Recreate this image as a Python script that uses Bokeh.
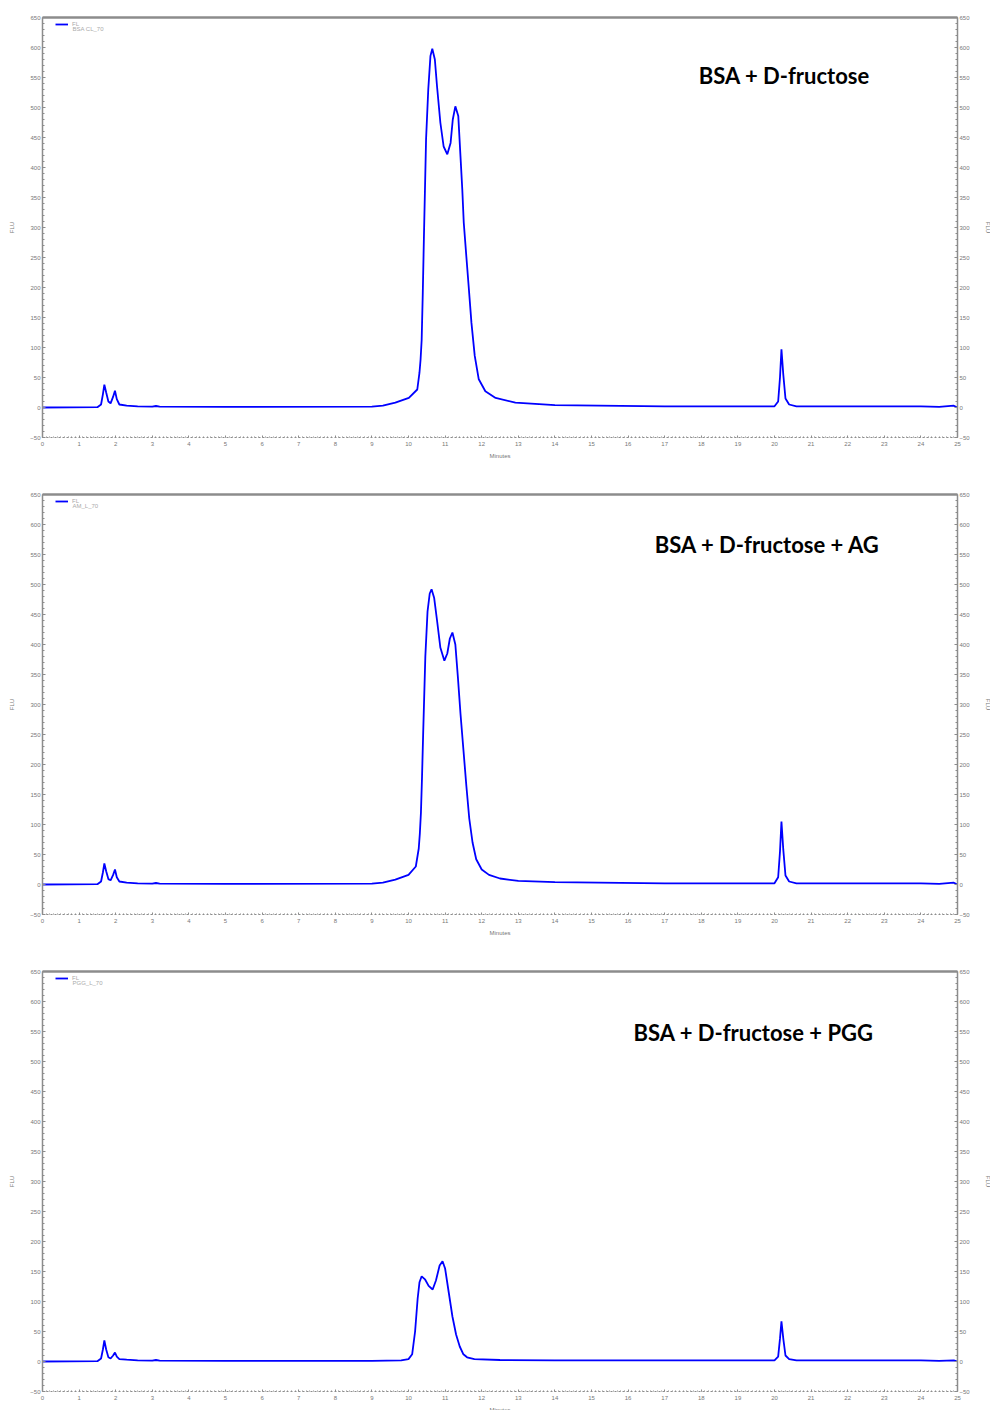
from bokeh.plotting import figure
from bokeh.layouts import column
from bokeh.models import Range1d, LinearAxis, FixedTicker, Label, Legend, LegendItem
from bokeh.embed import file_html
from bokeh.resources import INLINE

# ---------------- data ----------------
X_TICKS = list(range(0, 26))
Y_TICKS = list(range(-50, 651, 50))

t1 = [0.0, 1.5, 1.6, 1.65, 1.69, 1.74, 1.8, 1.86, 1.93, 1.98, 2.03, 2.1, 2.3, 2.6, 3.0, 3.1, 3.2, 5.0,
      9.0, 9.3, 9.64, 10.01, 10.24, 10.30, 10.33, 10.36, 10.39, 10.42, 10.48, 10.54, 10.60, 10.65, 10.72,
      10.78, 10.87, 10.96, 11.06, 11.15, 11.21, 11.28, 11.36, 11.42, 11.47, 11.51, 11.58, 11.65, 11.72,
      11.81, 11.92, 12.10, 12.38, 12.92, 14.0,
      17.0, 20.0, 20.1, 20.15, 20.19, 20.24, 20.3, 20.4, 20.6, 24.0, 24.5, 24.9, 25.0]
v1 = [0, 0.5, 5, 22, 38, 25, 10, 7, 18, 28, 14, 5, 3, 2, 1.5, 2.5, 1.5, 1,
      1.5, 3, 8, 16, 30, 58, 80, 113, 190, 280, 447, 530, 586, 598, 580,
      535, 475, 435, 422, 441, 480, 502, 486, 419, 363, 308, 252, 197, 141,
      86, 47, 27, 16, 8, 4,
      2, 2, 10, 50, 97, 55, 15, 5, 2, 2, 1, 3, 0]

t2 = [0.0, 1.5, 1.6, 1.65, 1.69, 1.74, 1.8, 1.86, 1.93, 1.98, 2.03, 2.1, 2.3, 2.6, 3.0, 3.1, 3.2, 5.0,
      9.0, 9.3, 9.64, 10.0, 10.2, 10.28, 10.31, 10.34, 10.37, 10.4, 10.46, 10.52, 10.58, 10.63, 10.7,
      10.78, 10.87, 10.98, 11.06, 11.13, 11.2, 11.28, 11.35, 11.42, 11.5, 11.58, 11.66, 11.75, 11.85,
      12.0, 12.2, 12.5, 13.0, 14.0,
      17.0, 20.0, 20.1, 20.15, 20.19, 20.24, 20.3, 20.4, 20.6, 24.0, 24.5, 24.9, 25.0]
v2 = [0, 0.5, 5, 20, 35, 22, 9, 7, 16, 25, 12, 5, 3, 2, 1.5, 2.5, 1.5, 1,
      1.5, 3, 8, 16, 30, 60, 85, 120, 180, 250, 380, 455, 485, 492, 478,
      440, 395, 373, 385, 410, 420, 400, 345, 285, 225, 165, 110, 70, 42,
      25, 16, 10, 6, 4,
      2, 2, 12, 55, 105, 58, 15, 5, 2, 2, 1, 3, 0]

t3 = [0.0, 1.5, 1.6, 1.65, 1.69, 1.74, 1.8, 1.86, 1.93, 1.98, 2.03, 2.1, 2.3, 2.6, 3.0, 3.1, 3.2, 5.0,
      9.0, 9.8, 10.0, 10.1, 10.18, 10.25, 10.3, 10.36, 10.45, 10.55, 10.66, 10.75, 10.85, 10.93, 11.0,
      11.1, 11.2, 11.3, 11.4, 11.5, 11.6, 11.8, 12.5, 14.0,
      17.0, 20.0, 20.1, 20.15, 20.19, 20.24, 20.3, 20.4, 20.6, 24.0, 24.5, 24.9, 25.0]
v3 = [0, 0.5, 5, 20, 35, 20, 7, 5, 10, 15, 8, 4, 3, 2, 1.5, 2.5, 1.5, 1,
      1, 2, 4, 12, 50, 105, 132, 142, 137, 126, 120, 135, 160, 167, 155,
      115, 75, 45, 25, 12, 7, 4, 2.5, 2,
      2, 2, 8, 38, 67, 38, 10, 4, 2, 2, 1, 2, 0]

panels = [
    (t1, v1, "BSA + D-fructose", "BSA CL_70", 20.27, 553),
    (t2, v2, "BSA + D-fructose + AG", "AM_L_70", 19.81, 567),
    (t3, v3, "BSA + D-fructose + PGG", "PGG_L_70", 19.43, 548),
]

GRAY = "#8c8c8c"
TXT = "#777777"


def style_axis(ax, label=None):
    ax.axis_line_color = GRAY
    ax.major_tick_line_color = GRAY
    ax.minor_tick_line_color = GRAY
    ax.major_label_text_font = "Liberation Sans"
    ax.major_label_text_font_size = "6px"
    ax.major_label_text_color = TXT
    ax.major_label_standoff = 2
    ax.axis_label_text_font = "Liberation Sans"
    ax.axis_label_text_font_size = "6px"
    ax.axis_label_text_font_style = "normal"
    ax.axis_label_text_color = TXT
    if label is not None:
        ax.axis_label = label


figs = []
for i, (t, v, title, leg2, tx, ty) in enumerate(panels):
    p = figure(frame_width=915, frame_height=420, output_backend="svg", toolbar_location=None,
               x_range=Range1d(0, 25), y_range=Range1d(-50, 650),
               min_border_left=42, min_border_right=23, min_border_top=17,
               min_border_bottom=40 if i < 2 else 10,
               background_fill_color="white", border_fill_color="white")
    p.outline_line_color = None
    p.grid.visible = False

    r = p.line(t, v, line_color="#0000ff", line_width=1.8)

    # axes
    p.xaxis.ticker = FixedTicker(ticks=X_TICKS, minor_ticks=[x / 10 for x in range(0, 251)])
    style_axis(p.xaxis[0], "Minutes")
    p.xaxis.axis_line_dash = "2 2"
    p.xaxis.major_tick_in = 2
    p.xaxis.major_tick_out = 0
    p.xaxis.minor_tick_in = 1
    p.xaxis.minor_tick_out = 0
    p.xaxis.major_label_standoff = 4
    p.xaxis.axis_label_standoff = 4

    p.yaxis.ticker = FixedTicker(ticks=Y_TICKS, minor_ticks=list(range(-50, 651, 10)))
    style_axis(p.yaxis[0], "FLU")
    p.yaxis.axis_line_width = 1.5
    p.yaxis.major_tick_in = 3
    p.yaxis.major_tick_out = 0
    p.yaxis.minor_tick_in = 2
    p.yaxis.minor_tick_out = 0
    p.yaxis.axis_label_standoff = 12

    ry = LinearAxis(ticker=FixedTicker(ticks=Y_TICKS, minor_ticks=list(range(-50, 651, 10))))
    style_axis(ry, "FLU")
    ry.axis_line_width = 1.5
    ry.major_tick_in = 3
    ry.major_tick_out = 0
    ry.minor_tick_in = 2
    ry.minor_tick_out = 0
    ry.axis_label_standoff = 12
    p.add_layout(ry, "right")

    top = LinearAxis(ticker=FixedTicker(ticks=[]))
    top.axis_line_color = GRAY
    top.axis_line_width = 2.5
    top.major_label_text_font_size = "0px"
    top.major_tick_line_color = None
    top.minor_tick_line_color = None
    p.add_layout(top, "above")

    # legend (swatch + "FL" above the run name)
    leg = Legend(items=[LegendItem(label="FL", renderers=[r])], location=(13, 410),
                 label_text_font="Liberation Sans", label_text_font_size="6px",
                 label_text_color="#aaaaaa", label_text_baseline="bottom",
                 glyph_width=13, glyph_height=6, label_height=6,
                 label_standoff=4, margin=0, padding=0, border_line_color=None,
                 background_fill_alpha=0)
    p.add_layout(leg)
    p.add_layout(Label(x=0.82, y=631, text=leg2, text_font="Liberation Sans",
                       text_font_size="6px", text_color="#aaaaaa", text_baseline="middle"))

    p.add_layout(Label(x=tx, y=ty, text=title, text_font="Lato", text_font_style="bold",
                       text_font_size="22px", text_color="black", text_align="center",
                       text_baseline="middle"))
    figs.append(p)

layout = column(*figs, spacing=0)
open("out.html", "w").write(file_html(layout, INLINE))
